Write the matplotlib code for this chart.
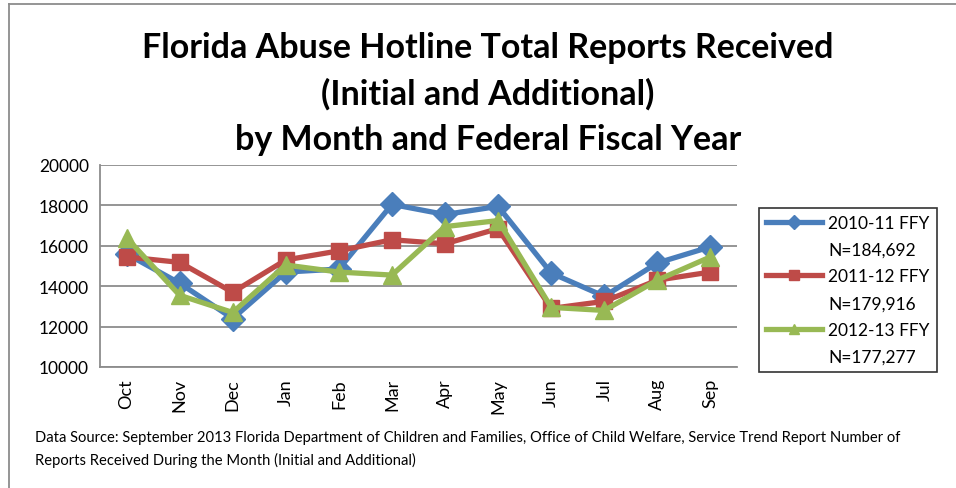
import matplotlib
matplotlib.use('Agg')
import matplotlib.pyplot as plt
from matplotlib.lines import Line2D

# data
months = ['Oct', 'Nov', 'Dec', 'Jan', 'Feb', 'Mar', 'Apr', 'May', 'Jun', 'Jul', 'Aug', 'Sep']
ffy_2010_11 = [15600, 14150, 12400, 14700, 14850, 18050, 17550, 17950, 14650, 13500, 15150, 15950]
ffy_2011_12 = [15450, 15180, 13700, 15300, 15750, 16300, 16100, 16850, 12900, 13250, 14300, 14700]
ffy_2012_13 = [16400, 13550, 12700, 15050, 14700, 14550, 16950, 17250, 12950, 12800, 14300, 15450]
labels = ['2010-11 FFY', '2011-12 FFY', '2012-13 FFY']
counts = ['N=184,692', 'N=179,916', 'N=177,277']
yticks = [10000, 12000, 14000, 16000, 18000, 20000]

W, H = 956, 489
plt.rcParams['font.family'] = ['Lato', 'DejaVu Sans']

fig = plt.figure(figsize=(W / 100, H / 100), dpi=100)
ax = fig.add_axes([100 / W, 1 - 368 / H, 637 / W, 202 / H])

series = [
    (ffy_2010_11, '#4a7ebb', 'D', 12),
    (ffy_2011_12, '#be4b48', 's', 12),
    (ffy_2012_13, '#98b954', '^', 13),
]
x = range(len(months))
handles, leg_labels = [], []
for (vals, col, mk, ms), lab, n in zip(series, labels, counts):
    ax.plot(x, vals, color=col, lw=3.8, marker=mk, ms=ms, mec=col, mfc=col,
            solid_joinstyle='round')
    # handle on the first text line, count on the line below
    handles.append(Line2D([], [], color=col, lw=3.8, marker=mk, ms=7, mec=col, mfc=col))
    leg_labels.append(lab)
    handles.append(Line2D([], [], color='none'))
    leg_labels.append(n)

ax.set_xlim(-0.5, len(months) - 0.5)
ax.set_ylim(10000, 20000)
ax.set_yticks(yticks)
ax.set_yticklabels([str(v) for v in yticks], fontsize=12.5)
ax.set_xticks(list(x))
ax.set_xticklabels(months, rotation=90, fontsize=13)
ax.tick_params(length=0, pad=8)
ax.grid(axis='y', color='#8c8c8c', lw=1.3)
ax.set_axisbelow(True)
for s in ['top', 'right']:
    ax.spines[s].set_visible(False)
for s in ['left', 'bottom']:
    ax.spines[s].set_color('#8c8c8c')
    ax.spines[s].set_linewidth(1.3)

# title, three centred lines
title_lines = ['Florida Abuse Hotline Total Reports Received',
               '(Initial and Additional)',
               'by Month and Federal Fiscal Year']
for i, t in enumerate(title_lines):
    fig.text(488 / W, 1 - (48 + 46 * i) / H, t, ha='center', va='center',
             fontsize=24.5, fontweight='bold')

leg = fig.legend(handles, leg_labels, loc='upper left', bbox_to_anchor=(759 / W, 1 - 209 / H),
                 fontsize=12.5, frameon=True, fancybox=False, edgecolor='black',
                 handlelength=3.2, handletextpad=0.4, labelspacing=0.62,
                 borderpad=0.4, borderaxespad=0)
leg.get_frame().set_linewidth(1.2)

fig.text(35 / W, 1 - 438 / H,
         'Data Source: September 2013 Florida Department of Children and Families, Office of Child Welfare, Service Trend Report Number of',
         fontsize=10.6, va='center')
fig.text(35 / W, 1 - 460 / H,
         'Reports Received During the Month (Initial and Additional)',
         fontsize=10.6, va='center')

# outer chart border (top and left visible)
fig.add_artist(Line2D([9 / W, 1], [1 - 5 / H, 1 - 5 / H], color='#8c8c8c', lw=1.3))
fig.add_artist(Line2D([9 / W, 9 / W], [0, 1 - 5 / H], color='#8c8c8c', lw=1.3))

fig.savefig('out.png', dpi=100)
